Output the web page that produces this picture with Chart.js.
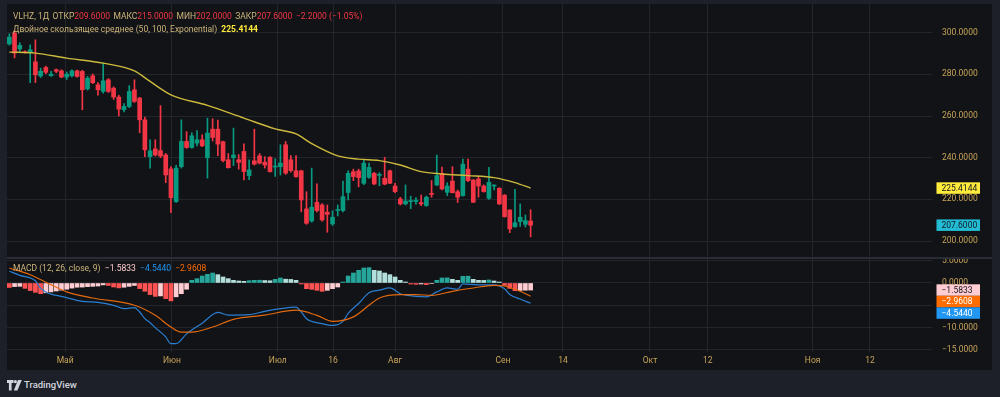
<!DOCTYPE html>
<html>
<head>
<meta charset="utf-8">
<script src="https://cdn.jsdelivr.net/npm/chart.js@4.4.1/dist/chart.umd.min.js"></script>
<style>
  html, body { margin: 0; padding: 0; }
  body { width: 1000px; height: 397px; background: #1e2029; position: relative; overflow: hidden; font-family: Roboto, 'Noto Sans', sans-serif; }
  canvas { position: absolute; left: 0; }
  #priceCanvas { top: 0; }
  #macdCanvas { top: 259px; }
  .sep { position: absolute; left: 7px; width: 985px; top: 257px; height: 2px; background: #2a2d36; }
  .legend { position: absolute; left: 13px; font-size: 8.5px; line-height: 10px; color: #cdb67c; white-space: pre; }
  #head1 .g { margin-left: 3.5px; }
  .red { color: #f23645; }
  .yel { color: #ffeb3b; font-weight: bold; }
  .logo { position: absolute; left: 7px; top: 379px; height: 12px; }
  .logo span { position: absolute; left: 17px; top: 0; font-size: 9.5px; line-height: 12px; color: #d1d4dc; font-weight: 500; }
</style>
</head>
<body>
<canvas id="priceCanvas" width="1000" height="257"></canvas>
<div class="sep"></div>
<canvas id="macdCanvas" width="1000" height="111"></canvas>

<div class="legend" id="head1" style="top:11px"></div>
<div class="legend" id="head2" style="top:24px"></div>
<div class="legend" id="head3" style="top:263px"></div>

<div class="logo">
  <svg width="15" height="11" viewBox="0 0 15 11" style="position:absolute;left:0;top:1px">
    <path d="M0 0h6.5v3H4.6v7.5H1.9V3H0z" fill="#d1d4dc"/>
    <circle cx="8.4" cy="1.6" r="1.6" fill="#d1d4dc"/>
    <path d="M11 0h3.8l-4.4 10.5H6.8z" fill="#d1d4dc"/>
  </svg>
  <span>TradingView</span>
</div>

<script>
// daily candles (index 0 = first visible bar)
const opens  = [294.6,299.8,292.2,290.9,290.4,286,279.2,283.3,279.4,282.2,281.7,278.7,279.3,281.7,281.4,273,279.3,275,271.8,277.4,
  273.4,269.1,263,264.6,272.6,268.6,258.2,240.5,244.2,243.4,241.3,234.6,218.9,235.7,247.8,244.9,247,248.6,240,253.7,
  253.7,247.7,239,240,239,243,231.4,238.5,240.9,237.8,240.2,235.5,235.7,246.2,239,233.7,233.7,215.4,209.6,218.6,
  217.3,213.8,208.2,214.6,214.6,223.3,233.3,233.7,227.7,230.6,232.5,231.5,230.1,233.7,226.4,220.2,217.8,218.9,219,218.4,
  217,222.8,226.9,232.5,223.4,228.8,223.7,221.8,234.5,229.3,229.8,226.4,220.5,226.4,225.3,222,214.9,206.9,209.3,208,209.6];
const highs  = [299.5,301,295.2,291.3,294.2,296.6,283,284,281.5,282.6,282.2,281.2,282.2,282,282,279,280.2,276,285.4,278,
  274,270,266,274.6,277.4,269,259.5,248.6,248.6,265,242,235.7,236.3,258.2,252.5,252,253,251,259,258.7,
  258,248,242,254.2,241.5,246.6,239,253.7,242,240.5,240.5,239.5,246.2,247.8,241,241,234,223.7,235,227.5,
  218,217.3,214.5,217.3,228.8,233.7,234.5,234.5,239,237.4,233,232.8,240.2,234,227.7,221,226.9,221.5,220.8,222,
  221.6,229,241.3,235.5,228,235.7,224.5,239.3,239.3,229.5,231,227,235.4,227,225.6,222.3,215,224.8,217.8,212.5,215];
const lows   = [294,287.9,290.5,290.2,276,276,278.5,280.3,279,280.8,278.4,277.5,278.8,278.7,263,272.5,275.5,270,271,271.3,
  268,260,262,264,266.5,252,240.5,235,240.8,240,228,213.6,218.5,235,244.5,244.5,245.6,245.3,230.2,248,
  241,238,235,236.2,234.5,229.3,229.5,236.5,237,235,233,231,231.7,232,233,230.5,214,208,209,214,
  209.5,204.2,207.5,212,214,219.7,229,226,227,230,227,226.5,227,227.5,223.2,217.3,217.3,215.5,217.7,217,
  216.6,221,226.5,224.5,221.8,223,218.5,221.5,228.5,218.4,221,223.4,220,224.5,217.5,211.4,204,206.5,207,206.7,202];
const closes = [297.9,290.2,293.9,290.5,291.8,279.8,281.5,281,280.1,281.5,278.7,280.1,281.7,279,272.6,278.2,276,272.6,276.9,271.8,
  269.1,263.3,264.6,271.8,267,258.2,243.8,243.3,241.3,240.8,231.7,220.8,235,247.8,244.9,250.5,248.6,245.7,251.8,249.7,
  246.5,238.6,235.2,241.3,237.8,233.3,234.1,236.9,237.4,236.5,233.3,236,237.4,232.6,233.8,230.9,219.7,208.5,216.2,214.6,
  210.1,212.8,211.4,215.1,221.3,232.5,230.9,230.4,237.4,235.3,227.4,232,227.3,227.7,223.7,217.8,219.2,219.4,219.6,217.8,
  221,222.4,231.4,225,226.4,223.2,221,236.9,229,218.6,226.4,223.7,228.2,226.7,217.8,211.7,205.8,208.8,211.4,209.8,207.6];

// double EMA (50, 100), read at a few bars
const demaIdx = [0, 5, 11, 18, 24, 27, 31, 38, 45, 51, 55, 58, 63, 67, 71, 75, 79, 83, 88, 93, 97, 100];
const demaVal = [290.7, 290.2, 287.8, 285.4, 281.7, 276.6, 270.2, 265.1, 259, 253.8, 251.4, 246.8, 240.9, 239.3, 238.6, 236.5, 233.3, 232.2, 231.4, 230.4, 228.0, 225.4144];

// MACD (12, 26, close, 9)
const histVal = [-1.0,-0.8,-0.75,-1.2,-1.7,-2.1,-2.4,-2.2,-2.0,-1.8,-1.6,-1.4,-1.15,-0.95,-0.92,-0.82,-0.75,-0.68,-0.42,-0.55,
  -0.9,-1.1,-0.95,-0.75,-0.55,-1.25,-1.85,-2.6,-3.0,-2.9,-3.5,-4.0,-3.1,-2.4,-1.4,0.6,0.97,1.57,1.94,2.24,
  1.87,1.35,0.97,0.6,0.45,0.37,0.52,0.6,0.62,0.55,0.5,0.82,1.12,0.85,0.8,0.6,-0.22,-1.27,-1.42,-1.64,
  -1.87,-1.64,-1.27,-0.9,0.22,1.57,2.24,2.84,3.36,3.44,2.84,2.69,2.24,1.87,1.35,0.6,0.22,-0.22,-0.3,-0.22,
  -0.37,-0.1,0.6,1.12,1.15,0.82,0.6,1.5,1.52,0.82,0.6,0.58,0.68,0.45,0.22,-0.52,-1.2,-1.72,-1.68,-1.62,-1.5833];
const macdIdx = [0, 2, 5, 6, 7, 8, 10, 14, 17, 20, 22, 24, 25, 26, 27, 28, 30, 31, 32, 34, 37, 40, 42, 46, 49, 52, 55, 56, 57, 60,
  62, 64, 65, 67, 69, 71, 73, 75, 76, 80, 82, 84, 86, 87, 90, 93, 95, 96, 98, 100];
const macdVal = [2.62, 1.72, 0.5, -1.2, -2.0, -2.5, -3.0, -4.1, -4.35, -5.0, -5.75, -5.5, -6.5, -8.0, -8.9, -10.0, -12.1, -13.6, -13.6, -11.4, -9.0, -6.6, -7.2, -7.1, -6.35, -5.75, -5.4, -6.5, -8.0, -9.1,
  -9.5, -8.6, -6.8, -4.6, -2.2, -1.6, -1.1, -2.4, -2.7, -3.1, -2.0, -1.1, -1.4, -0.2, -0.4, -0.4, -1.3, -2.6, -3.6, -4.544];
const signalIdx = [0, 4, 8, 11, 16, 24, 28, 31, 33, 35, 39, 43, 49, 55, 59, 62, 66, 69, 71, 75, 78, 81, 85, 89, 93, 95, 98, 100];
const signalVal = [3.36, 1.86, -0.38, -2.0, -3.36, -5.0, -7.25, -9.87, -11.0, -11.0, -9.87, -8.14, -7.2, -6.1, -7.25, -8.6, -7.6, -5.0, -3.36, -2.62, -2.62, -2.76, -1.86, -1.12, -0.52, -0.67, -1.86, -2.9608];

// time axis
const tickIdx = [10.7, 31.2, 51.5, 62.1, 74, 94.7, 106.2, 122.9, 134, 154.1, 165.1];
const tickLabels = ['Май', 'Июн', 'Июл', '16', 'Авг', 'Сен', '14', 'Окт', '12', 'Ноя', '12'];
const priceTicks = [200, 220, 240, 260, 280, 300];
const macdTicks = [5, 0, -5, -10, -15];

const UP = '#089981', DOWN = '#f23645';
const GRID = '#22252c';
const AXIS_TEXT = '#c8a45a';
const AXIS_FONT = { family: 'Roboto', size: 8.5 };
const X_MIN = -0.45, X_MAX = 177;

const fmt = v => v.toFixed(4).replace('-', '\u2212');
const last = closes.length - 1;

// legend texts
const chg = closes[last] - closes[last - 1];
document.getElementById('head1').innerHTML =
  'VLHZ, 1Д<span class="g">ОТКР</span><span class="red">' + opens[last].toFixed(4) + '</span><span class="g">МАКС</span><span class="red">' + highs[last].toFixed(4) +
  '</span><span class="g">МИН</span><span class="red">' + lows[last].toFixed(4) + '</span><span class="g">ЗАКР</span><span class="red">' + closes[last].toFixed(4) +
  '</span><span class="red g">' + fmt(chg) + ' (' + (chg / closes[last - 1] * 100).toFixed(2).replace('-', '\u2212') + '%)</span>';
document.getElementById('head2').innerHTML =
  'Двойное скользящее среднее (50, 100, Exponential)  <span class="yel">' + demaVal[demaVal.length - 1].toFixed(4) + '</span>';
document.getElementById('head3').innerHTML =
  'MACD (12, 26, close, 9)  <span style="color:#ffcdd2">' + fmt(histVal[last]) + '</span>  <span style="color:#2196f3">' +
  fmt(macdVal[macdVal.length - 1]) + '</span>  <span style="color:#ff6d00">' + fmt(signalVal[signalVal.length - 1]) + '</span>';

const paneBg = {
  id: 'paneBg',
  beforeDraw(chart, args, opts) {
    const c = chart.ctx;
    c.save();
    c.fillStyle = '#121316';
    c.fillRect(7, opts.top, 985, chart.height - opts.top);
    c.restore();
  }
};

// coloured last-value labels on the price scale, pushed down so they don't overlap
const lastBoxes = {
  id: 'lastBoxes',
  afterDraw(chart, args, opts) {
    const c = chart.ctx;
    const ys = chart.scales.y;
    const h = 11.5;
    const items = opts.items.map(it => Object.assign({}, it, { py: ys.getPixelForValue(it.value) }));
    items.sort((a, b) => a.py - b.py);
    let prevBottom = -Infinity;
    c.save();
    items.forEach(it => {
      let top = it.py - h / 2;
      if (top < prevBottom) top = prevBottom;
      prevBottom = top + h;
      c.fillStyle = it.bg;
      c.fillRect(936.5, top, 43.5, h);
      c.fillStyle = it.fg;
      c.font = '8.5px Roboto';
      c.textAlign = 'left';
      c.textBaseline = 'middle';
      c.fillText(fmt(it.value), 941.5, top + h / 2 + 0.5);
    });
    c.restore();
  }
};

const candleColors = closes.map((c, i) => c >= opens[i] ? UP : DOWN);

const xScale = (showLabels) => ({
  type: 'linear', min: X_MIN, max: X_MAX, offset: false,
  afterBuildTicks: s => { s.ticks = tickIdx.map(v => ({ value: v })); },
  afterFit: s => { s.height = showLabels ? 18 : 0; s.paddingLeft = 0; s.paddingRight = 0; },
  grid: { color: GRID, drawTicks: false, offset: false },
  border: { display: false },
  ticks: {
    display: showLabels, autoSkip: false, maxRotation: 0, padding: 4,
    color: AXIS_TEXT, font: AXIS_FONT,
    callback: (v, i) => tickLabels[i]
  }
});

const yScale = (min, max, ticks) => ({
  position: 'right', min: min, max: max,
  afterBuildTicks: s => { s.ticks = ticks.map(v => ({ value: v })); },
  afterFit: s => { s.width = 60; s.paddingTop = 0; s.paddingBottom = 0; },
  grid: { color: GRID, drawTicks: false },
  border: { display: false },
  ticks: { color: AXIS_TEXT, font: AXIS_FONT, padding: 10, callback: v => fmt(v) }
});

new Chart(document.getElementById('priceCanvas'), {
  type: 'bar',
  data: {
    datasets: [
      {
        type: 'line', label: 'DEMA',
        data: demaIdx.map((x, k) => ({ x: x, y: demaVal[k] })),
        borderColor: '#cdb93e', borderWidth: 1.4, pointRadius: 0,
        cubicInterpolationMode: 'monotone', order: 0
      },
      {
        label: 'wick',
        data: closes.map((c, i) => ({ x: i, y: [lows[i], highs[i]] })),
        backgroundColor: candleColors, barThickness: 1, grouped: false, order: 2
      },
      {
        label: 'body',
        data: closes.map((c, i) => ({ x: i, y: [Math.min(opens[i], c), Math.max(opens[i], c)] })),
        backgroundColor: candleColors, barThickness: 4, minBarLength: 1, grouped: false, order: 1
      }
    ]
  },
  options: {
    responsive: false, animation: false, events: [],
    layout: { padding: { left: 7, top: 4, right: 8, bottom: 0 } },
    plugins: {
      legend: { display: false }, tooltip: { enabled: false },
      paneBg: { top: 4 },
      lastBoxes: { items: [
        { value: demaVal[demaVal.length - 1], bg: '#ffeb3b', fg: '#131722' },
        { value: closes[last], bg: '#22bcd4', fg: '#131722' }
      ] }
    },
    scales: { x: xScale(false), y: yScale(192.32, 313.78, priceTicks) }
  },
  plugins: [paneBg, lastBoxes]
});

const histColors = histVal.map((v, i) => {
  const prev = i > 0 ? histVal[i - 1] : (v >= 0 ? -Infinity : Infinity);
  if (v >= 0) return v > prev ? '#26a69a' : '#b2dfdb';
  return v < prev ? '#ff5252' : '#ffcdd2';
});

new Chart(document.getElementById('macdCanvas'), {
  type: 'bar',
  data: {
    datasets: [
      {
        label: 'Histogram',
        data: histVal.map((v, i) => ({ x: i, y: v })),
        backgroundColor: histColors, barThickness: 4, grouped: false, order: 3
      },
      {
        type: 'line', label: 'MACD',
        data: macdIdx.map((x, k) => ({ x: x, y: macdVal[k] })),
        borderColor: '#2a7fd2', borderWidth: 1.2, pointRadius: 0,
        cubicInterpolationMode: 'monotone', order: 2
      },
      {
        type: 'line', label: 'Signal',
        data: signalIdx.map((x, k) => ({ x: x, y: signalVal[k] })),
        borderColor: '#e2690f', borderWidth: 1.2, pointRadius: 0,
        cubicInterpolationMode: 'monotone', order: 1
      }
    ]
  },
  options: {
    responsive: false, animation: false, events: [],
    layout: { padding: { left: 7, top: 0, right: 8, bottom: 0 } },
    plugins: {
      legend: { display: false }, tooltip: { enabled: false },
      paneBg: { top: 0 },
      lastBoxes: { items: [
        { value: histVal[last], bg: '#ffcdd2', fg: '#131722' },
        { value: signalVal[signalVal.length - 1], bg: '#ff6d00', fg: '#ffffff' },
        { value: macdVal[macdVal.length - 1], bg: '#2196f3', fg: '#ffffff' }
      ] }
    },
    scales: { x: xScale(true), y: yScale(-15.47, 5.38, macdTicks) }
  },
  plugins: [paneBg, lastBoxes]
});
</script>
</body>
</html>
